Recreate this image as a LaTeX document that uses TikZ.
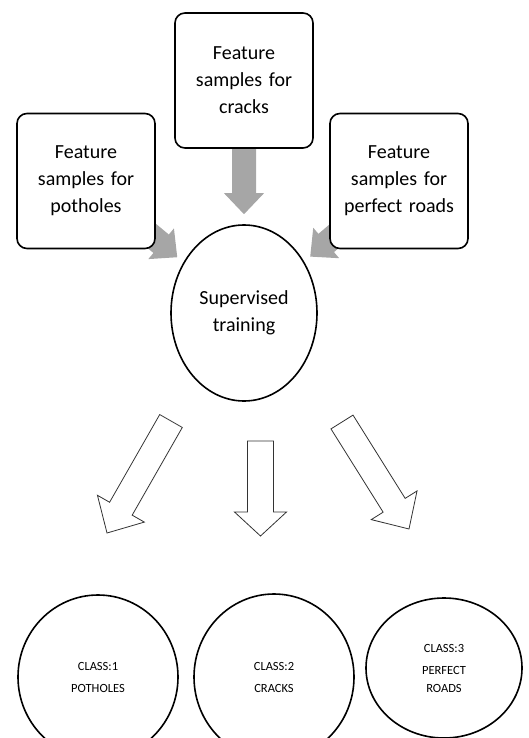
\documentclass[tikz,border=0pt]{standalone}
\usepackage{fontspec}
\setmainfont{Carlito}
\usetikzlibrary{calc,shapes.geometric}

% block arrow: style, from, to, half shaft, half head, head length
\newcommand\blockarrow[6]{%
  \path ($(#3)!#6!(#2)$) coordinate (ba-h);
  \draw[#1] ($(#2)!#4!90:(#3)$) -- ($(ba-h)!#4!-90:(#2)$) -- ($(ba-h)!#5!-90:(#2)$) -- (#3)
    -- ($(ba-h)!#5!90:(#2)$) -- ($(ba-h)!#4!90:(#2)$) -- ($(#2)!#4!-90:(#3)$) -- cycle;
}

\tikzset{
  featbox/.style={draw, line width=1.6pt, rounded corners=10pt, fill=white,
    minimum width=138pt, minimum height=135pt, text width=122pt, inner sep=0pt,
    align=center, font=\fontsize{20}{27}\selectfont},
  classell/.style={ellipse, draw, line width=1.6pt, fill=white, inner sep=0pt,
    align=center, font=\fontsize{12.5}{18}\selectfont},
  grayarrow/.style={fill=arrowgray, draw=none},
  openarrow/.style={draw=black!80, line width=0.8pt, fill=white, line join=miter},
}
\definecolor{arrowgray}{HTML}{A6A6A6}

\begin{document}
\begin{tikzpicture}[x=1pt,y=-1pt]
\useasboundingbox (0,0) rectangle (528,738);

% training ellipse first, gray arrows go behind the boxes
\node[classell, minimum width=146pt, minimum height=176pt,
  font=\fontsize{20}{27}\selectfont] (train) at (244,313) {Supervised\\training};

\coordinate (gt-l) at ($(train.center)!87pt!(86,181)$);
\coordinate (gt-r) at ($(train.center)!87pt!(399,181)$);
\coordinate (gt-c) at ($(train.north)+(0,-10)$);

\blockarrow{grayarrow}{86,181}{gt-l}{12pt}{20pt}{21pt}
\blockarrow{grayarrow}{399,181}{gt-r}{12pt}{20pt}{21pt}
\blockarrow{grayarrow}{244,80.5}{gt-c}{12pt}{20pt}{21pt}

\node[featbox] (crack) at (244,80.5) {Feature\\samples for\\cracks};
\node[featbox] (pot) at (86,181) {Feature\\samples for\\potholes};
\node[featbox] (road) at (399,181) {Feature\\samples for\\perfect roads};

% outputs
\coordinate (ot-l) at (171,421);
\coordinate (oh-l) at (107,533);
\coordinate (ot-c) at (260.5,441);
\coordinate (oh-c) at (260.5,536);
\coordinate (ot-r) at (342,422);
\coordinate (oh-r) at (409,529);

\blockarrow{openarrow}{ot-l}{oh-l}{13pt}{27pt}{28pt}
\blockarrow{openarrow}{ot-c}{oh-c}{13pt}{26pt}{24pt}
\blockarrow{openarrow}{ot-r}{oh-r}{13pt}{27pt}{28pt}

\node[classell, minimum width=160pt, minimum height=164pt] (c1) at (98,677) {CLASS:1\\[4pt]POTHOLES};
\node[classell, minimum width=160pt, minimum height=166pt] (c2) at (274,677) {CLASS:2\\[4pt]CRACKS};
\node[classell, minimum width=156pt, minimum height=140pt] (c3) at (444,668) {CLASS:3\\[4pt]PERFECT\\ROADS};

\end{tikzpicture}
\end{document}
